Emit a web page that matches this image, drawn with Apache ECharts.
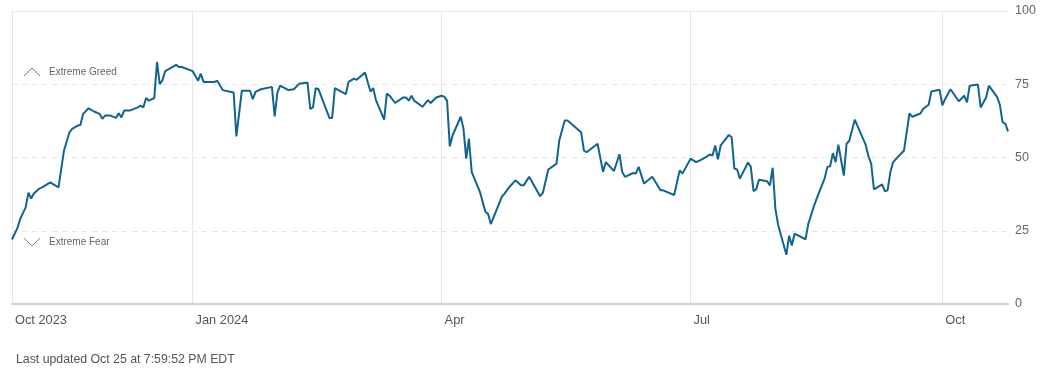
<!DOCTYPE html>
<html>
<head>
<meta charset="utf-8">
<script src="https://cdn.jsdelivr.net/npm/echarts@6/dist/echarts.min.js"></script>
<style>
html,body{margin:0;padding:0;background:#fff;}
#chart{width:1050px;height:371px;}
</style>
</head>
<body>
<div id="chart"></div>
<script>
const dates = [
'2023-10-27','2023-10-29','2023-10-30','2023-10-31','2023-11-01','2023-11-02','2023-11-03','2023-11-04','2023-11-06','2023-11-07',
'2023-11-10','2023-11-11','2023-11-13','2023-11-15','2023-11-17','2023-11-18','2023-11-20','2023-11-21','2023-11-22','2023-11-24',
'2023-11-26','2023-11-28','2023-11-29','2023-11-30','2023-12-02','2023-12-04','2023-12-05','2023-12-06','2023-12-07','2023-12-09',
'2023-12-12','2023-12-13','2023-12-14','2023-12-15','2023-12-16','2023-12-18','2023-12-19','2023-12-20','2023-12-21','2023-12-22',
'2023-12-26','2023-12-27','2023-12-28','2024-01-01','2024-01-03','2024-01-04','2024-01-05','2024-01-09','2024-01-10','2024-01-12',
'2024-01-16','2024-01-17','2024-01-19','2024-01-22','2024-01-23','2024-01-24','2024-01-26','2024-01-30','2024-01-31','2024-02-01',
'2024-02-02','2024-02-05','2024-02-07','2024-02-09','2024-02-12','2024-02-13','2024-02-14','2024-02-15','2024-02-16','2024-02-20',
'2024-02-21','2024-02-22','2024-02-26','2024-02-27','2024-02-29','2024-03-01','2024-03-04','2024-03-06','2024-03-07','2024-03-08',
'2024-03-11','2024-03-12','2024-03-13','2024-03-15','2024-03-18','2024-03-19','2024-03-20','2024-03-21','2024-03-22','2024-03-25',
'2024-03-27','2024-03-28','2024-03-30','2024-04-01','2024-04-02','2024-04-03','2024-04-04','2024-04-05','2024-04-08','2024-04-09',
'2024-04-10','2024-04-11','2024-04-12','2024-04-15','2024-04-17','2024-04-18','2024-04-19','2024-04-23','2024-04-24','2024-04-26',
'2024-04-28','2024-04-30','2024-05-01','2024-05-03','2024-05-07','2024-05-08','2024-05-10','2024-05-13','2024-05-14','2024-05-16',
'2024-05-17','2024-05-22','2024-05-23','2024-05-24','2024-05-28','2024-05-30','2024-05-31','2024-06-03','2024-06-05','2024-06-06',
'2024-06-07','2024-06-10','2024-06-11','2024-06-12','2024-06-14','2024-06-17','2024-06-20','2024-06-21','2024-06-25','2024-06-27',
'2024-06-28','2024-07-01','2024-07-03','2024-07-05','2024-07-07','2024-07-08','2024-07-09','2024-07-10','2024-07-11','2024-07-12',
'2024-07-15','2024-07-16','2024-07-17','2024-07-18','2024-07-19','2024-07-22','2024-07-23','2024-07-24','2024-07-25','2024-07-26',
'2024-07-29','2024-07-30','2024-07-31','2024-08-01','2024-08-02','2024-08-05','2024-08-06','2024-08-07','2024-08-08','2024-08-12',
'2024-08-13','2024-08-15','2024-08-16','2024-08-19','2024-08-20','2024-08-21','2024-08-22','2024-08-23','2024-08-24','2024-08-26',
'2024-08-27','2024-08-28','2024-08-30','2024-09-03','2024-09-04','2024-09-05','2024-09-06','2024-09-09','2024-09-10','2024-09-11',
'2024-09-12','2024-09-13','2024-09-17','2024-09-19','2024-09-20','2024-09-23','2024-09-24','2024-09-26','2024-09-27','2024-09-30',
'2024-10-01','2024-10-02','2024-10-04','2024-10-07','2024-10-09','2024-10-10','2024-10-11','2024-10-14','2024-10-15','2024-10-17',
'2024-10-18','2024-10-21','2024-10-22','2024-10-23','2024-10-24','2024-10-25'
];
const values = [
22,26,29,31,33,38,36,37.7,39.4,39.8,
41.5,40.9,39.8,52.4,58.6,59.8,60.9,61.1,64.9,66.8,
65.7,64.9,63.2,64.3,64.3,63.5,65.1,63.7,66,66,
67.1,67.7,67.1,70.3,69.4,70.3,82.6,75,76.4,79.5,
81.6,80.9,80.9,79.5,76.2,78.6,75.8,75.8,76.2,73,
72.2,57.2,72.8,72.8,69.9,72.4,73.3,74.1,64,72.2,
74.5,73,73.3,75.2,75.6,66.6,67.1,73.7,73.3,63.5,
63.5,73.7,71.6,75.8,76.9,76.5,79,72.5,73.7,69.6,
62.9,71.8,71.1,68.6,70.5,70.5,69.4,71.1,69.4,67.3,
69.6,68.6,70.5,71.1,70.7,69.4,53.8,57.5,63.9,59.8,
49.6,56.4,45.1,38.3,31.5,30.7,27.3,36.6,37.7,40.2,
42.2,40.5,40.5,43.4,36.8,37.9,45.9,47.9,55.8,62.6,
62.6,58.6,52.4,51.8,54.7,45.1,48.4,45.4,51.1,45.1,
43.4,44.7,44.5,46.8,41.1,43.4,38.8,38.8,37.2,45.6,
44.5,49.6,48.4,49.3,50.4,51,50.7,54.1,49.4,54.1,
57.7,56.9,46.2,45.9,42.8,48.3,46.8,38.5,39.2,42.4,
41.9,40.5,46.5,32.4,27,16.8,23.3,20,24,22.1,
27.3,33.2,35.8,42.9,46.8,47,51.5,48.4,54.4,43.8,
54.7,55.7,62.9,54.3,50.4,47.9,39.1,40.8,38.5,38.8,
45,48.4,52.4,65.1,63.9,65,66.6,68,72.5,73.1,
67.8,69.9,73.3,69.2,71.1,68.8,74.5,74.9,67.1,70.5,
74.5,70.7,68.1,62.1,61.6,58.9
];
const axisStart = '2023-10-27';
const axisEnd = '2024-10-25';
const xTickDates = ['2023-10-27','2024-01-01','2024-04-01','2024-07-01','2024-10-01'];
const xTickLabels = ['Oct 2023','Jan 2024','Apr','Jul','Oct'];
const yTicks = [0, 25, 50, 75, 100];
const zoneLabels = ['Extreme Greed', 'Extreme Fear'];
const footerText = 'Last updated Oct 25 at 7:59:52 PM EDT';

function toTs(s) {
  const p = s.split('-').map(Number);
  return Date.UTC(p[0], p[1] - 1, p[2]);
}
const tickTs = xTickDates.map(toTs);
const FONT = '"Liberation Sans", Arial, sans-serif';

const chart = echarts.init(document.getElementById('chart'), null, {renderer: 'canvas'});
chart.setOption({
  animation: false,
  backgroundColor: '#ffffff',
  grid: {left: 12, right: 42, top: 11, bottom: 67, containLabel: false},
  title: {
    text: footerText, left: 11, top: 349,
    textStyle: {fontSize: 12.3, fontWeight: 'normal', color: '#555', fontFamily: FONT}
  },
  xAxis: [{
    type: 'value',
    min: toTs(axisStart),
    max: toTs(axisEnd),
    axisLine: {show: true, lineStyle: {color: '#d0d0d0', width: 2}},
    axisTick: {show: false, customValues: tickTs},
    axisLabel: {
      customValues: tickTs,
      formatter: function (v) {
        const i = tickTs.indexOf(v);
        return i >= 0 ? xTickLabels[i] : '';
      },
      align: 'left', padding: [0, 0, 0, 3],
      color: '#555', fontSize: 12.8, margin: 10, fontFamily: FONT
    },
    splitLine: {show: true, lineStyle: {color: '#e6e6e6', width: 1}}
  }, {
    type: 'value', position: 'top',
    min: toTs(axisStart), max: toTs(axisEnd),
    axisLine: {show: true, lineStyle: {color: '#e8e8e8', width: 1}},
    axisTick: {show: false}, axisLabel: {show: false}, splitLine: {show: false}
  }],
  yAxis: {
    type: 'value', position: 'right',
    min: yTicks[0], max: yTicks[yTicks.length - 1], interval: 25,
    axisLine: {show: false}, axisTick: {show: false},
    axisLabel: {color: '#666', fontSize: 12.5, margin: 7, fontFamily: FONT},
    splitLine: {show: true, lineStyle: {color: '#e4e4e4', width: 1, type: [5, 5]}}
  },
  graphic: [
    {type: 'polyline', shape: {points: [[24, 76], [32, 68], [40, 76]]}, style: {stroke: '#888', lineWidth: 1, fill: null}},
    {type: 'text', left: 49, top: 67, style: {text: zoneLabels[0], fill: '#666', fontSize: 10, fontFamily: FONT}},
    {type: 'polyline', shape: {points: [[24, 238], [32, 246], [40, 238]]}, style: {stroke: '#888', lineWidth: 1, fill: null}},
    {type: 'text', left: 49, top: 237, style: {text: zoneLabels[1], fill: '#666', fontSize: 10, fontFamily: FONT}}
  ],
  series: [{
    type: 'line',
    data: dates.map((d, i) => [toTs(d), values[i]]),
    showSymbol: false,
    lineStyle: {color: '#11648f', width: 2},
    itemStyle: {color: '#11648f'},
    z: 5
  }]
});
</script>
</body>
</html>
